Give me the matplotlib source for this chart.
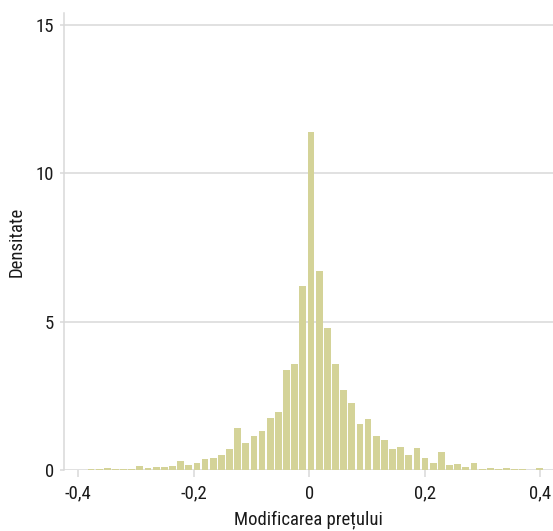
import numpy as np
import matplotlib
matplotlib.use('Agg')
import matplotlib.pyplot as plt

# histogram of price changes (density per bin)
bin_lo = -0.3992
bin_hi = 0.4056
density = [0.01, 0.02, 0.03, 0.06, 0.05, 0.05, 0.05, 0.15, 0.06, 0.11,
           0.11, 0.13, 0.31, 0.16, 0.25, 0.38, 0.42, 0.49, 0.71, 1.43,
           0.92, 1.14, 1.32, 1.74, 1.97, 3.37, 3.57, 6.20, 11.38, 6.72,
           4.78, 3.56, 2.69, 2.26, 1.54, 1.71, 1.14, 1.00, 0.72, 0.77,
           0.50, 0.74, 0.41, 0.25, 0.59, 0.16, 0.20, 0.11, 0.25, 0.05,
           0.08, 0.04, 0.07, 0.05, 0.02, 0.01, 0.08]

x_ticks = [-0.4, -0.2, 0, 0.2, 0.4]
x_labels = ['-0,4', '-0,2', '0', '0,2', '0,4']
y_ticks = [0, 5, 10, 15]
y_labels = ['0', '5', '10', '15']

plt.rcParams['font.family'] = ['Roboto Condensed', 'DejaVu Sans Condensed',
                               'Liberation Sans Narrow', 'Roboto', 'DejaVu Sans']
plt.rcParams['font.stretch'] = 'condensed'

edges = np.linspace(bin_lo, bin_hi, len(density) + 1)
centers = (edges[:-1] + edges[1:]) / 2
widths = np.diff(edges)

fig = plt.figure(figsize=(5.53, 5.31), dpi=100)
ax = fig.add_axes([0.1157, 0.1149, 0.8843, 0.8601])

grid_col = '#d9d9d9'
txt_col = '#1a1a1a'
ax.set_axisbelow(True)
ax.yaxis.grid(True, color=grid_col, linewidth=1.1)

# bars leave a thin white gap between bins
ax.bar(centers, density, width=widths * 0.83, color='#d4d398', linewidth=0)

ax.set_xlim(-0.4248, 0.4225)
ax.set_ylim(0, 15.4)

ax.set_xticks(x_ticks)
ax.set_xticklabels(x_labels)
ax.set_yticks(y_ticks)
ax.set_yticklabels(y_labels)

for s in ['top', 'right', 'bottom']:
    ax.spines[s].set_visible(False)
ax.spines['left'].set_color(grid_col)
ax.spines['left'].set_linewidth(1.1)

ax.tick_params(axis='x', colors=grid_col, labelcolor=txt_col, length=4.7,
               width=1.1, labelsize=13.5, pad=6)
ax.tick_params(axis='y', colors=grid_col, labelcolor=txt_col, length=3,
               width=1.1, labelsize=13.5, pad=4)

ax.set_xlabel('Modificarea prețului', fontsize=13.5, color=txt_col, labelpad=5)
ax.set_ylabel('Densitate', fontsize=13.5, color=txt_col, labelpad=7)

fig.savefig('out.png', dpi=100)
